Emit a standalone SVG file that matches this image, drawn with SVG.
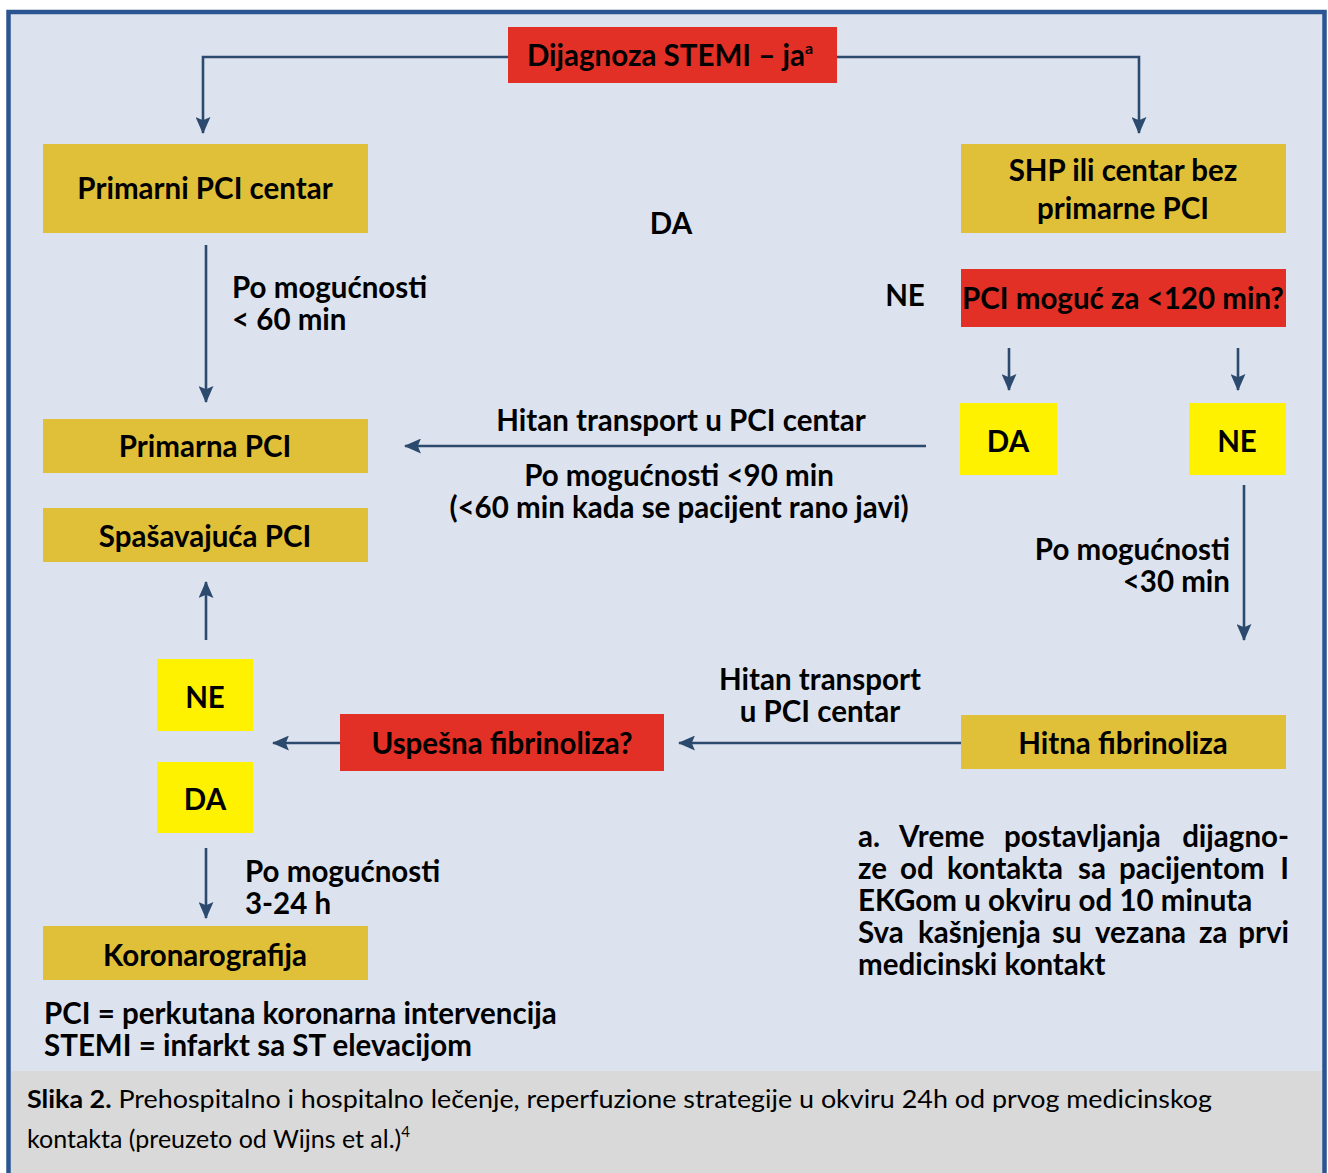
<svg xmlns="http://www.w3.org/2000/svg" width="1328" height="1173" viewBox="0 0 1328 1173">
<style>
text{font-family:Lato,"Liberation Sans","DejaVu Sans",sans-serif;font-weight:bold;fill:#000;font-size:29.5px}
.c{text-anchor:middle}
.r{text-anchor:end}
.gold{fill:#e0c039}
.red{fill:#e33026}
.yel{fill:#fff200}
.ln{fill:none;stroke:#2c4a6e;stroke-width:2.6;marker-end:url(#ah)}
.cap{font-weight:normal;font-size:25px}
</style>
<defs>
<marker id="ah" viewBox="0 0 16 14" markerWidth="17" markerHeight="15" refX="15" refY="7" orient="auto" markerUnits="userSpaceOnUse">
<path d="M0,0 L16,7 L0,14 L3,7 Z" fill="#2c4a6e"/>
</marker>
</defs>
<rect x="0" y="0" width="1328" height="1173" fill="#ffffff"/>
<rect x="8.5" y="12" width="1316" height="1175" fill="#dce3ee" stroke="#2b5591" stroke-width="4.5"/>
<rect x="11" y="1071" width="1311" height="105" fill="#d9d9d9"/>

<g id="connectors">
<path class="ln" d="M508,57 H203 V133"/>
<path class="ln" d="M837,57 H1139 V133"/>
<path class="ln" d="M206,245 V402"/>
<path class="ln" d="M1009,348 V390"/>
<path class="ln" d="M1238,348 V390"/>
<path class="ln" d="M926,446 H405"/>
<path class="ln" d="M1244,485 V640"/>
<path class="ln" d="M206,640 V582"/>
<path class="ln" d="M340,743 H273"/>
<path class="ln" d="M961,743 H679"/>
<path class="ln" d="M206,848 V918"/>
</g>

<g id="n-dijagnoza">
<rect class="red" x="508" y="27" width="329" height="56"/>
<text x="670" y="66" class="c">Dijagnoza STEMI – ja<tspan font-size="16" dy="-12">a</tspan></text>
</g>
<g id="n-primarni-centar">
<rect class="gold" x="43" y="144" width="325" height="89"/>
<text x="205" y="199" class="c">Primarni PCI centar</text>
</g>
<g id="n-shp">
<rect class="gold" x="961" y="144" width="325" height="89"/>
<text x="1123" y="181" class="c">SHP ili centar bez</text>
<text x="1123" y="219" class="c">primarne PCI</text>
</g>
<g id="l-da-top"><text x="671" y="234" class="c">DA</text></g>
<g id="l-ne-top"><text x="905" y="306" class="c">NE</text></g>
<g id="n-pci120">
<rect class="red" x="961" y="269" width="325" height="58"/>
<text x="1123" y="309" class="c">PCI moguć za &lt;120 min?</text>
</g>
<g id="n-da-right">
<rect class="yel" x="960" y="403" width="97" height="72"/>
<text x="1008" y="452" class="c">DA</text>
</g>
<g id="n-ne-right">
<rect class="yel" x="1189" y="403" width="97" height="72"/>
<text x="1237" y="452" class="c">NE</text>
</g>
<g id="l-60">
<text x="232" y="298">Po mogućnosti</text>
<text x="232" y="330">&lt; 60 min</text>
</g>
<g id="l-transport1">
<text x="681" y="431" class="c">Hitan transport u PCI centar</text>
<text x="679" y="486" class="c">Po mogućnosti &lt;90 min</text>
<text x="679" y="518" class="c">(&lt;60 min kada se pacijent rano javi)</text>
</g>
<g id="n-primarna-pci">
<rect class="gold" x="43" y="419" width="325" height="54"/>
<text x="205" y="457" class="c">Primarna PCI</text>
</g>
<g id="n-spasavajuca">
<rect class="gold" x="43" y="508" width="325" height="54"/>
<text x="205" y="547" class="c">Spašavajuća PCI</text>
</g>
<g id="l-30">
<text x="1230" y="560" class="r">Po mogućnosti</text>
<text x="1230" y="592" class="r">&lt;30 min</text>
</g>
<g id="l-transport2">
<text x="820" y="690" class="c">Hitan transport</text>
<text x="820" y="722" class="c">u PCI centar</text>
</g>
<g id="n-ne-left">
<rect class="yel" x="157" y="659" width="96" height="72"/>
<text x="205" y="708" class="c">NE</text>
</g>
<g id="n-uspesna">
<rect class="red" x="340" y="714" width="324" height="57"/>
<text x="502" y="754" class="c">Uspešna fibrinoliza?</text>
</g>
<g id="n-hitna">
<rect class="gold" x="961" y="715" width="325" height="54"/>
<text x="1123" y="754" class="c">Hitna fibrinoliza</text>
</g>
<g id="n-da-left">
<rect class="yel" x="157" y="762" width="96" height="71"/>
<text x="205" y="810" class="c">DA</text>
</g>
<g id="l-324">
<text x="245" y="882">Po mogućnosti</text>
<text x="245" y="914">3-24 h</text>
</g>
<g id="n-koronarografija">
<rect class="gold" x="43" y="926" width="325" height="54"/>
<text x="205" y="966" class="c">Koronarografija</text>
</g>
<g id="footnote">
<text y="847"><tspan x="858">a.</tspan><tspan x="899">Vreme</tspan><tspan x="1004">postavljanja</tspan><tspan x="1289" text-anchor="end">dijagno-</tspan></text>
<text y="879"><tspan x="858">ze</tspan><tspan x="900">od</tspan><tspan x="947">kontakta</tspan><tspan x="1078">sa</tspan><tspan x="1119">pacijentom</tspan><tspan x="1289" text-anchor="end">I</tspan></text>
<text x="858" y="911">EKGom u okviru od 10 minuta</text>
<text y="943"><tspan x="858">Sva</tspan><tspan x="918">kašnjenja</tspan><tspan x="1052">su</tspan><tspan x="1095">vezana</tspan><tspan x="1199">za</tspan><tspan x="1289" text-anchor="end">prvi</tspan></text>
<text x="858" y="975">medicinski kontakt</text>
</g>
<g id="legend">
<text x="44" y="1024">PCI = perkutana koronarna intervencija</text>
<text x="44" y="1056">STEMI = infarkt sa ST elevacijom</text>
</g>
<g id="caption">
<text x="27" y="1108" class="cap" textLength="1185" lengthAdjust="spacingAndGlyphs"><tspan font-weight="bold">Slika 2.</tspan> Prehospitalno i hospitalno lečenje, reperfuzione strategije u okviru 24h od prvog medicinskog</text>
<text x="27" y="1148" class="cap">kontakta (preuzeto od Wijns et al.)<tspan font-size="15" dy="-11">4</tspan></text>
</g>
</svg>
